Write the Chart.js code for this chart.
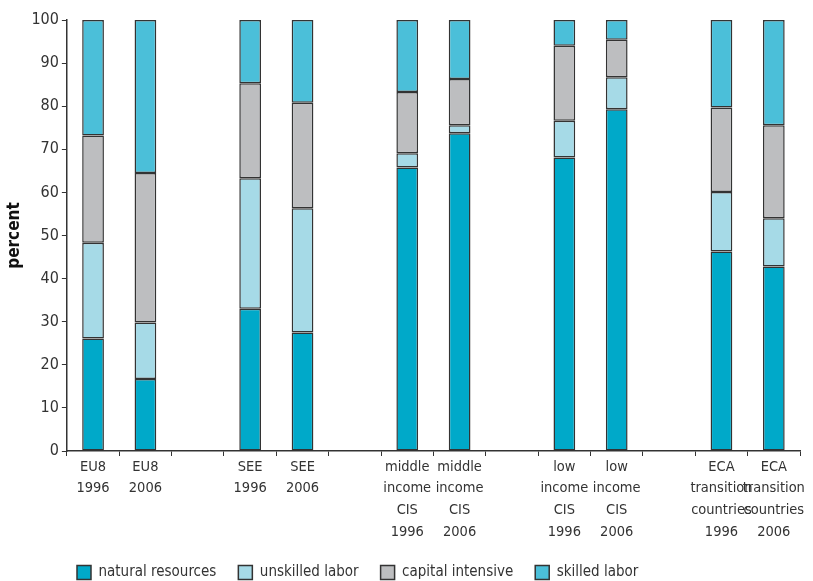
<!DOCTYPE html>
<html>
<head>
<meta charset="utf-8">
<script src="https://cdn.jsdelivr.net/npm/chart.js@4"></script>
<style>
    html, body { margin: 0; padding: 0; background: #fff; }
    #wrap { width: 813px; height: 581px; }
</style>
</head>
<body>
<div id="wrap"><canvas id="exportChart"></canvas></div>
<script>
// categories (blank slots are spacer columns between groups)
const categories = [
    ['EU8', '1996'], ['EU8', '2006'], '',
    ['SEE', '1996'], ['SEE', '2006'], '',
    ['middle', 'income', 'CIS', '1996'], ['middle', 'income', 'CIS', '2006'], '',
    ['low', 'income', 'CIS', '1996'], ['low', 'income', 'CIS', '2006'], '',
    ['ECA', 'transition', 'countries', '1996'], ['ECA', 'transition', 'countries', '2006']
];

// shares in percent
const naturalResources = [26.1, 16.7, null, 33.0, 27.5, null, 65.8, 73.7, null, 68.1, 79.3, null, 46.3, 42.8];
const unskilledLabor   = [22.2, 13.1, null, 30.3, 28.8, null, 3.3, 1.9, null, 8.5, 7.4, null, 13.8, 11.2];
const capitalIntensive = [24.9, 34.7, null, 22.0, 24.5, null, 14.2, 10.7, null, 17.4, 8.7, null, 19.6, 21.6];
const skilledLabor     = [26.8, 35.5, null, 14.7, 19.2, null, 16.7, 13.7, null, 6.0, 4.6, null, 20.3, 24.4];

const yTicks = [0, 10, 20, 30, 40, 50, 60, 70, 80, 90, 100];

const FONT = '"DejaVu Sans Condensed", "Liberation Sans Narrow", sans-serif';
const TEXT = '#333333';
const LINE = '#333333';

function series(label, data, color) {
    return {
        label: label,
        data: data,
        backgroundColor: color,
        borderColor: LINE,
        borderWidth: 1.5,
        borderSkipped: false,
        barPercentage: 0.415,
        categoryPercentage: 1.0
    };
}

// nudge the legend so it starts under the plot rather than at the page edge
const legendShift = {
    id: 'legendShift',
    afterLayout: function(chart) {
        if (chart.legend) {
            chart.legend.left = 55;
        }
    }
};

new Chart(document.getElementById('exportChart'), {
    type: 'bar',
    data: {
        labels: categories,
        datasets: [
            series('natural resources', naturalResources, '#00A9C9'),
            series('unskilled labor', unskilledLabor, '#A6DAE7'),
            series('capital intensive', capitalIntensive, '#BDBEC0'),
            series('skilled labor', skilledLabor, '#4BBFD9')
        ]
    },
    options: {
        responsive: true,
        maintainAspectRatio: false,
        animation: false,
        layout: {
            padding: { top: 20, right: 13, bottom: -9, left: 4 }
        },
        plugins: {
            tooltip: { enabled: false },
            legend: {
                position: 'bottom',
                align: 'start',
                labels: {
                    boxWidth: 14,
                    boxHeight: 14,
                    padding: 22,
                    color: TEXT,
                    font: { family: FONT, size: 15 }
                }
            }
        },
        scales: {
            x: {
                stacked: true,
                grid: {
                    drawOnChartArea: false,
                    drawTicks: true,
                    tickLength: 5,
                    color: LINE,
                    offset: true
                },
                border: { color: LINE, width: 1.5 },
                ticks: {
                    autoSkip: false,
                    maxRotation: 0,
                    padding: 0,
                    color: TEXT,
                    font: { family: FONT, size: 14.5, lineHeight: 1.5 }
                }
            },
            y: {
                stacked: true,
                min: 0,
                max: 100,
                afterBuildTicks: function(axis) {
                    axis.ticks = yTicks.map(v => ({ value: v }));
                },
                grid: {
                    drawOnChartArea: false,
                    drawTicks: true,
                    tickLength: 5,
                    color: LINE
                },
                border: { color: LINE, width: 1.5 },
                ticks: {
                    padding: 3,
                    color: TEXT,
                    font: { family: FONT, size: 16 }
                },
                title: {
                    display: true,
                    text: 'percent',
                    color: '#111',
                    padding: { top: 0, bottom: 4 },
                    font: { family: FONT, size: 17, weight: 'bold' }
                }
            }
        }
    },
    plugins: [legendShift]
});
</script>
</body>
</html>
